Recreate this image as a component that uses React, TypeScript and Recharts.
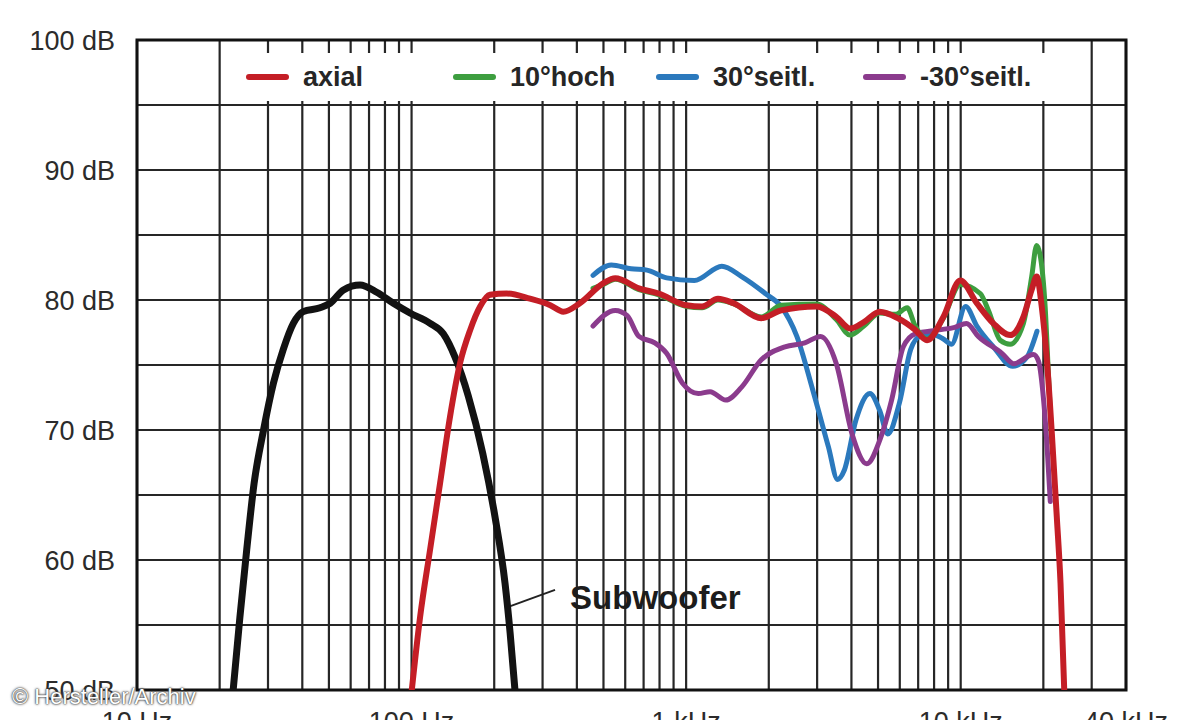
import React from 'react';
import {
  LineChart,
  Line,
  XAxis,
  YAxis,
  CartesianGrid,
  ReferenceLine,
  ReferenceDot,
  ReferenceArea,
  Legend,
} from 'recharts';

const FONT = '"Liberation Sans", Arial, Helvetica, sans-serif';

const RED = '#c41e26';
const GREEN = '#3d9e3f';
const BLUE = '#2b79bd';
const PURPLE = '#8b3b8d';
const BLACK = '#121212';

// Grid ticks (log scale, 10 Hz .. 40 kHz)
const xGridTicks = [
  10, 20, 30, 40, 50, 60, 70, 80, 90,
  100, 200, 300, 400, 500, 600, 700, 800, 900,
  1000, 2000, 3000, 4000, 5000, 6000, 7000, 8000, 9000,
  10000, 20000, 30000, 40000,
];
const xTickLabels: Record<number, string> = {
  10: '10 Hz',
  100: '100 Hz',
  1000: '1 kHz',
  10000: '10 kHz',
  40000: '40 kHz',
};
const yGridTicks = [50, 55, 60, 65, 70, 75, 80, 85, 90, 95, 100];
const yTickLabels: Record<number, string> = {
  50: '50 dB',
  60: '60 dB',
  70: '70 dB',
  80: '80 dB',
  90: '90 dB',
  100: '100 dB',
};

// Subwoofer (black)
const subFreq = [22.4, 23.7, 25.1, 26.7, 28.9, 31.4, 34.1, 37.1, 40.3, 46.4, 50.5, 56.5, 64.9, 74.7, 85.9, 98.7, 116.8, 130.5, 144, 161, 181.7, 201.4, 219, 228.5, 238];
const subDb = [50, 55.6, 60.8, 65.9, 70.0, 73.6, 76.2, 78.2, 79.1, 79.4, 79.75, 80.77, 81.15, 80.6, 79.75, 79.0, 78.2, 77.4, 75.6, 72.6, 68.2, 63.3, 58.2, 54.4, 50];

// axial (red)
const axialFreq = [100.2, 107.4, 116.8, 127, 138, 150, 163.5, 177.7, 193, 222, 270, 320, 357, 410, 500, 552, 673, 794, 1002, 1143, 1306, 1490, 1878, 2218, 2987, 3524, 3956, 4440, 5070, 5900, 6827, 7540, 8650, 9960, 11450, 13150, 15140, 16920, 18140, 18920, 19730, 20600, 21480, 22390, 23100, 23830];
const axialDb = [50, 55.6, 60.8, 65.9, 71.0, 75.1, 77.7, 79.5, 80.4, 80.5, 80.1, 79.6, 79.1, 79.75, 81.3, 81.67, 80.9, 80.5, 79.6, 79.5, 80.1, 79.75, 78.6, 79.2, 79.5, 78.7, 77.8, 78.3, 79.1, 78.6, 77.7, 76.9, 78.7, 81.5, 79.75, 78.2, 77.3, 78.7, 80.8, 81.8, 79.5, 75.4, 69.7, 63.3, 58.2, 50];

// 10° hoch (green)
const hochFreq = [458, 500, 552, 673, 794, 1002, 1143, 1306, 1490, 1878, 2218, 2987, 3524, 3956, 4440, 5070, 5786, 6383, 6827, 7540, 8650, 9960, 11780, 12620, 13930, 15140, 16920, 18140, 18900, 19450, 20300, 20900, 21480];
const hochDb = [80.9, 81.2, 81.6, 80.8, 80.4, 79.5, 79.4, 80.0, 79.7, 78.7, 79.6, 79.7, 78.5, 77.3, 78.0, 79.0, 78.9, 79.4, 78.0, 77.0, 78.6, 81.2, 80.5, 79.2, 76.9, 76.6, 78.2, 81.8, 84.2, 83.5, 79.5, 74.0, 69.0];

// 30° seitl. (blue)
const seitFreq = [458, 534, 630, 720, 849, 1071, 1349, 1593, 1942, 2218, 2531, 2890, 3298, 3560, 3767, 4160, 4670, 5070, 5420, 5985, 6576, 7116, 8000, 8650, 9260, 10420, 11450, 13150, 15470, 17420, 18960];
const seitDb = [81.9, 82.7, 82.4, 82.3, 81.7, 81.5, 82.6, 81.8, 80.5, 79.5, 77.2, 73.1, 68.7, 66.2, 66.9, 70.8, 72.8, 71.5, 69.7, 72.1, 76.2, 77.2, 77.3, 77.0, 76.6, 79.5, 78.0, 76.4, 74.9, 75.6, 77.6];

// -30° seitl. (purple)
const negFreq = [458, 552, 610, 673, 769, 849, 970, 1107, 1222, 1395, 1593, 1878, 2291, 2704, 3087, 3524, 4020, 4550, 5070, 5602, 6180, 6827, 8330, 9510, 10500, 11590, 14130, 15590, 18400, 19200, 19900, 20600, 21200];
const negDb = [78.0, 79.2, 78.8, 77.2, 76.7, 75.9, 73.6, 72.8, 72.95, 72.3, 73.3, 75.4, 76.4, 76.7, 77.2, 75.1, 69.7, 67.4, 69.2, 72.3, 76.4, 77.4, 77.7, 77.9, 78.2, 77.2, 75.9, 75.1, 75.8, 75.3, 73.0, 69.0, 64.5];

const seriesNames = ['axial', '10°hoch', '30°seitl.', '-30°seitl.'];
const seriesColors = [RED, GREEN, BLUE, PURPLE];
const legendLefts = [18, 225, 428, 635];

const zip = (fs: number[], ds: number[]) => fs.map((f, i) => ({ f, db: ds[i] }));

const subData = zip(subFreq, subDb);
const axialData = zip(axialFreq, axialDb);
const hochData = zip(hochFreq, hochDb);
const seitData = zip(seitFreq, seitDb);
const negData = zip(negFreq, negDb);

const renderLegend = () => (
  <div
    style={{
      position: 'relative',
      width: 842,
      height: 48,
      background: '#fff',
      fontFamily: FONT,
    }}
  >
    {seriesNames.map((name, i) => (
      <div
        key={name}
        style={{
          position: 'absolute',
          left: legendLefts[i],
          top: 0,
          height: 48,
          display: 'flex',
          alignItems: 'center',
        }}
      >
        <span
          style={{
            display: 'inline-block',
            width: 43,
            height: 6,
            borderRadius: 3,
            background: seriesColors[i],
            marginRight: 14,
          }}
        />
        <span style={{ fontSize: 27, fontWeight: 700, color: '#262626', lineHeight: '48px' }}>{name}</span>
      </div>
    ))}
  </div>
);

const SubwooferLabel = (props: any) => (
  <text
    x={props.cx}
    y={props.cy}
    dy="0.36em"
    textAnchor="start"
    fontFamily={FONT}
    fontWeight={700}
    fontSize={33}
    fill="#1c1c1c"
  >
    Subwoofer
  </text>
);

export default function App() {
  return (
    <div
      style={{
        position: 'absolute',
        left: 0,
        top: 0,
        width: 1199,
        height: 720,
        overflow: 'hidden',
        background: '#fff',
      }}
    >
      <LineChart width={1199} height={760} margin={{ top: 40, right: 73, bottom: 30, left: 0 }}>
        <CartesianGrid stroke="#262626" strokeWidth={2.2} />
        <XAxis
          dataKey="f"
          type="number"
          scale="log"
          domain={[10, 40000]}
          ticks={xGridTicks}
          interval={0}
          allowDataOverflow
          tickFormatter={(v: number) => xTickLabels[v] ?? ''}
          tickLine={false}
          axisLine={false}
          tickSize={0}
          tickMargin={22}
          height={40}
          tick={{ fill: '#2b2b2b', fontSize: 27, fontFamily: FONT }}
        />
        <YAxis
          type="number"
          domain={[50, 100]}
          ticks={yGridTicks}
          interval={0}
          allowDataOverflow
          tickFormatter={(v: number) => yTickLabels[v] ?? ''}
          tickLine={false}
          axisLine={false}
          tickSize={0}
          tickMargin={22}
          width={137}
          tick={{ fill: '#2b2b2b', fontSize: 27, fontFamily: FONT }}
        />
        <ReferenceArea
          x1={10}
          x2={40000}
          y1={50}
          y2={100}
          fill="none"
          fillOpacity={0}
          stroke="#111"
          strokeWidth={3}
        />
        <Legend
          layout="horizontal"
          align="center"
          verticalAlign="middle"
          content={renderLegend}
          wrapperStyle={{ position: 'absolute', left: 228, top: 53, width: 842, height: 48 }}
        />
        <ReferenceLine
          segment={[
            { x: 219, y: 56.3 },
            { x: 333, y: 57.7 },
          ]}
          stroke="#222"
          strokeWidth={2}
        />
        <ReferenceDot x={378} y={57.15} r={0} shape={SubwooferLabel} />
        <Line
          data={subData}
          dataKey="db"
          type="monotone"
          stroke={BLACK}
          strokeWidth={7}
          strokeLinecap="round"
          strokeLinejoin="round"
          dot={false}
          activeDot={false}
          isAnimationActive={false}
          legendType="none"
        />
        <Line
          data={seitData}
          dataKey="db"
          type="monotone"
          stroke={BLUE}
          strokeWidth={5}
          strokeLinecap="round"
          strokeLinejoin="round"
          dot={false}
          activeDot={false}
          isAnimationActive={false}
        />
        <Line
          data={negData}
          dataKey="db"
          type="monotone"
          stroke={PURPLE}
          strokeWidth={5}
          strokeLinecap="round"
          strokeLinejoin="round"
          dot={false}
          activeDot={false}
          isAnimationActive={false}
        />
        <Line
          data={hochData}
          dataKey="db"
          type="monotone"
          stroke={GREEN}
          strokeWidth={5}
          strokeLinecap="round"
          strokeLinejoin="round"
          dot={false}
          activeDot={false}
          isAnimationActive={false}
        />
        <Line
          data={axialData}
          dataKey="db"
          type="monotone"
          stroke={RED}
          strokeWidth={6}
          strokeLinecap="round"
          strokeLinejoin="round"
          dot={false}
          activeDot={false}
          isAnimationActive={false}
        />
      </LineChart>
      <div
        style={{
          position: 'absolute',
          left: 12,
          top: 684,
          fontFamily: FONT,
          fontSize: 22,
          color: '#fff',
          whiteSpace: 'nowrap',
          textShadow: '0 0 2px #444, 0 0 3px #555, 0 0 1px #333',
        }}
      >
        © Hersteller/Archiv
      </div>
    </div>
  );
}
